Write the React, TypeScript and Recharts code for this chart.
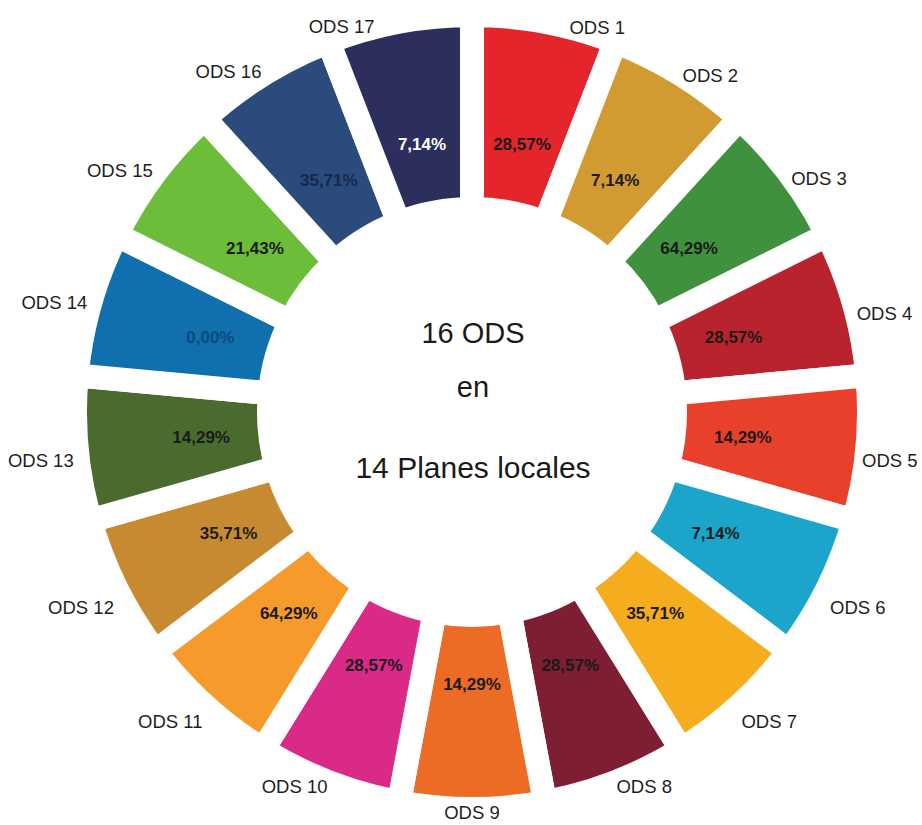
import { PieChart, Pie, Cell } from 'recharts';

const odsNames = [
  'ODS 1', 'ODS 2', 'ODS 3', 'ODS 4', 'ODS 5', 'ODS 6', 'ODS 7', 'ODS 8', 'ODS 9',
  'ODS 10', 'ODS 11', 'ODS 12', 'ODS 13', 'ODS 14', 'ODS 15', 'ODS 16', 'ODS 17',
];

// share of local plans that include each goal
const planShare = [
  28.57, 7.14, 64.29, 28.57, 14.29, 7.14, 35.71, 28.57, 14.29,
  28.57, 64.29, 35.71, 14.29, 0.0, 21.43, 35.71, 7.14,
];

// every goal takes the same slice of the ring
const sliceSize = [1, 1, 1, 1, 1, 1, 1, 1, 1, 1, 1, 1, 1, 1, 1, 1, 1];

const centerLines = ['16 ODS', 'en', '14 Planes locales'];

const sliceColors = [
  '#e4262c', '#d19b31', '#3f913d', '#b8232e', '#e8402a', '#1ba5cb', '#f6ad1d', '#7e1e32', '#ec6b25',
  '#d92a87', '#f59a2b', '#c78a30', '#4b6b2e', '#0f70ad', '#6cbd3a', '#2a4b7c', '#2c2e5e',
];

const percentColors: Record<number, string> = { 13: '#0b4a7c', 15: '#15294a', 16: '#ffffff' };

const data = odsNames.map((name, i) => ({ name, value: sliceSize[i], pct: planShare[i] }));

const RAD = Math.PI / 180;
const FONT = '"Liberation Sans", Arial, sans-serif';

const fmt = (v: number) => v.toFixed(2).replace('.', ',') + '%';

function renderLabels(props: any) {
  const { cx, cy, midAngle, index } = props;
  const cos = Math.cos(-midAngle * RAD);
  const sin = Math.sin(-midAngle * RAD);

  const pr = 272;
  const px = cx + pr * cos;
  const py = cy + pr * sin;

  // outside name labels, nudged a bit like the original layout
  const or = 400;
  let ox = cx + or * cos;
  let oy = cy + or * sin;
  if (sin < -0.95) {
    oy += 8;
    ox += Math.sign(cos) * 24;
  }
  if (cos > 0 || sin > 0) oy += 12 * cos * cos;
  if (sin > 0.3 && sin < 0.85) oy += 8;
  ox = Math.min(ox, 862);
  const anchor = cos > 0.1 ? 'start' : cos < -0.1 ? 'end' : 'middle';

  return (
    <g key={`lbl-${index}`}>
      <text
        x={px}
        y={py}
        textAnchor="middle"
        dominantBaseline="central"
        fontFamily={FONT}
        fontSize={17}
        fontWeight="bold"
        fill={percentColors[index] ?? '#1a1a1a'}
      >
        {fmt(data[index].pct)}
      </text>
      <text
        x={ox}
        y={oy}
        textAnchor={anchor}
        dominantBaseline="central"
        fontFamily={FONT}
        fontSize={18.5}
        fill="#1e1e1e"
      >
        {data[index].name}
      </text>
    </g>
  );
}

export default function App() {
  return (
    <div style={{ position: 'absolute', left: 0, top: 0, width: 922, height: 825, background: '#fff' }}>
      <PieChart width={922} height={825} margin={{ top: 0, right: 0, bottom: 0, left: 0 }}>
        <Pie
          data={data}
          dataKey="value"
          nameKey="name"
          cx={472}
          cy={412}
          innerRadius={203}
          outerRadius={397}
          startAngle={90}
          endAngle={-270}
          paddingAngle={0}
          stroke="#ffffff"
          strokeWidth={24}
          label={renderLabels}
          labelLine={false}
          isAnimationActive={false}
        >
          {data.map((d, i) => (
            <Cell key={d.name} fill={sliceColors[i]} />
          ))}
        </Pie>
        <text x={473} y={343} textAnchor="middle" fontFamily={FONT} fontSize={29} fill="#1a1a1a">
          {centerLines[0]}
        </text>
        <text x={473} y={397} textAnchor="middle" fontFamily={FONT} fontSize={29} fill="#1a1a1a">
          {centerLines[1]}
        </text>
        <text x={473} y={478} textAnchor="middle" fontFamily={FONT} fontSize={30} fill="#1a1a1a">
          {centerLines[2]}
        </text>
      </PieChart>
    </div>
  );
}
